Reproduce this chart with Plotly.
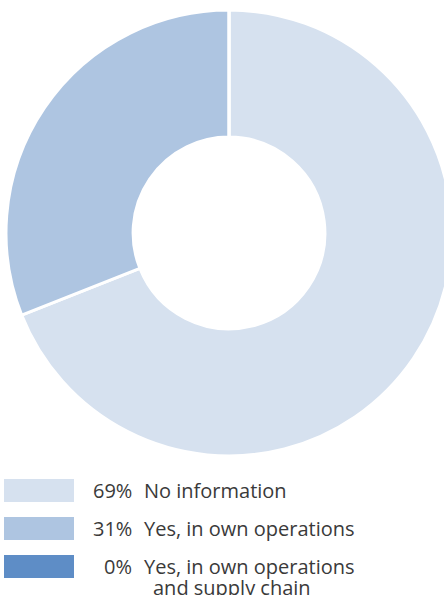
import plotly.graph_objects as go

categories = ["No information", "Yes, in own operations", "Yes, in own operations<br>and supply chain"]
legend_lines = [["No information"], ["Yes, in own operations"], ["Yes, in own operations", "and supply chain"]]
values = [69, 31, 0]
pct_labels = ["69%", "31%", "0%"]
colors = ["#d6e1ef", "#aec5e1", "#5e8dc6"]

W, H = 460, 595

fig = go.Figure()
fig.add_trace(go.Pie(
    labels=categories,
    values=values,
    hole=0.43,
    sort=False,
    direction="clockwise",
    rotation=0,
    marker=dict(colors=colors, line=dict(color="white", width=3)),
    textinfo="none",
    hoverinfo="label+percent",
    showlegend=False,
    domain=dict(x=[6 / W, 452 / W], y=[(H - 456) / H, (H - 10) / H]),
))

font = dict(family="Open Sans, Liberation Sans, Arial", size=20, color="#3a3a3a", weight=400)
row_y = [490, 528, 566]
shapes = []
annotations = []
for i in range(len(values)):
    yc = row_y[i]
    shapes.append(dict(type="rect", xref="paper", yref="paper",
                       x0=4 / W, x1=74 / W, y0=(H - (yc + 12)) / H, y1=(H - (yc - 11)) / H,
                       fillcolor=colors[i], line=dict(width=0)))
    annotations.append(dict(text=pct_labels[i], xref="paper", yref="paper",
                            x=134 / W, y=(H - yc) / H, xanchor="right", yanchor="middle",
                            showarrow=False, font=font))
    for j, line in enumerate(legend_lines[i]):
        annotations.append(dict(text=line, xref="paper", yref="paper",
                                x=(142 + 9 * j) / W, y=(H - (yc + 21.5 * j)) / H,
                                xanchor="left", yanchor="middle",
                                showarrow=False, font=font))

fig.update_layout(
    width=W, height=H,
    margin=dict(l=0, r=0, t=0, b=0),
    paper_bgcolor="white",
    plot_bgcolor="white",
    shapes=shapes,
    annotations=annotations,
)

fig.write_html("out.html", post_script="document.documentElement.style.overflow='hidden';document.body.style.overflow='hidden';document.body.style.margin='0';")
